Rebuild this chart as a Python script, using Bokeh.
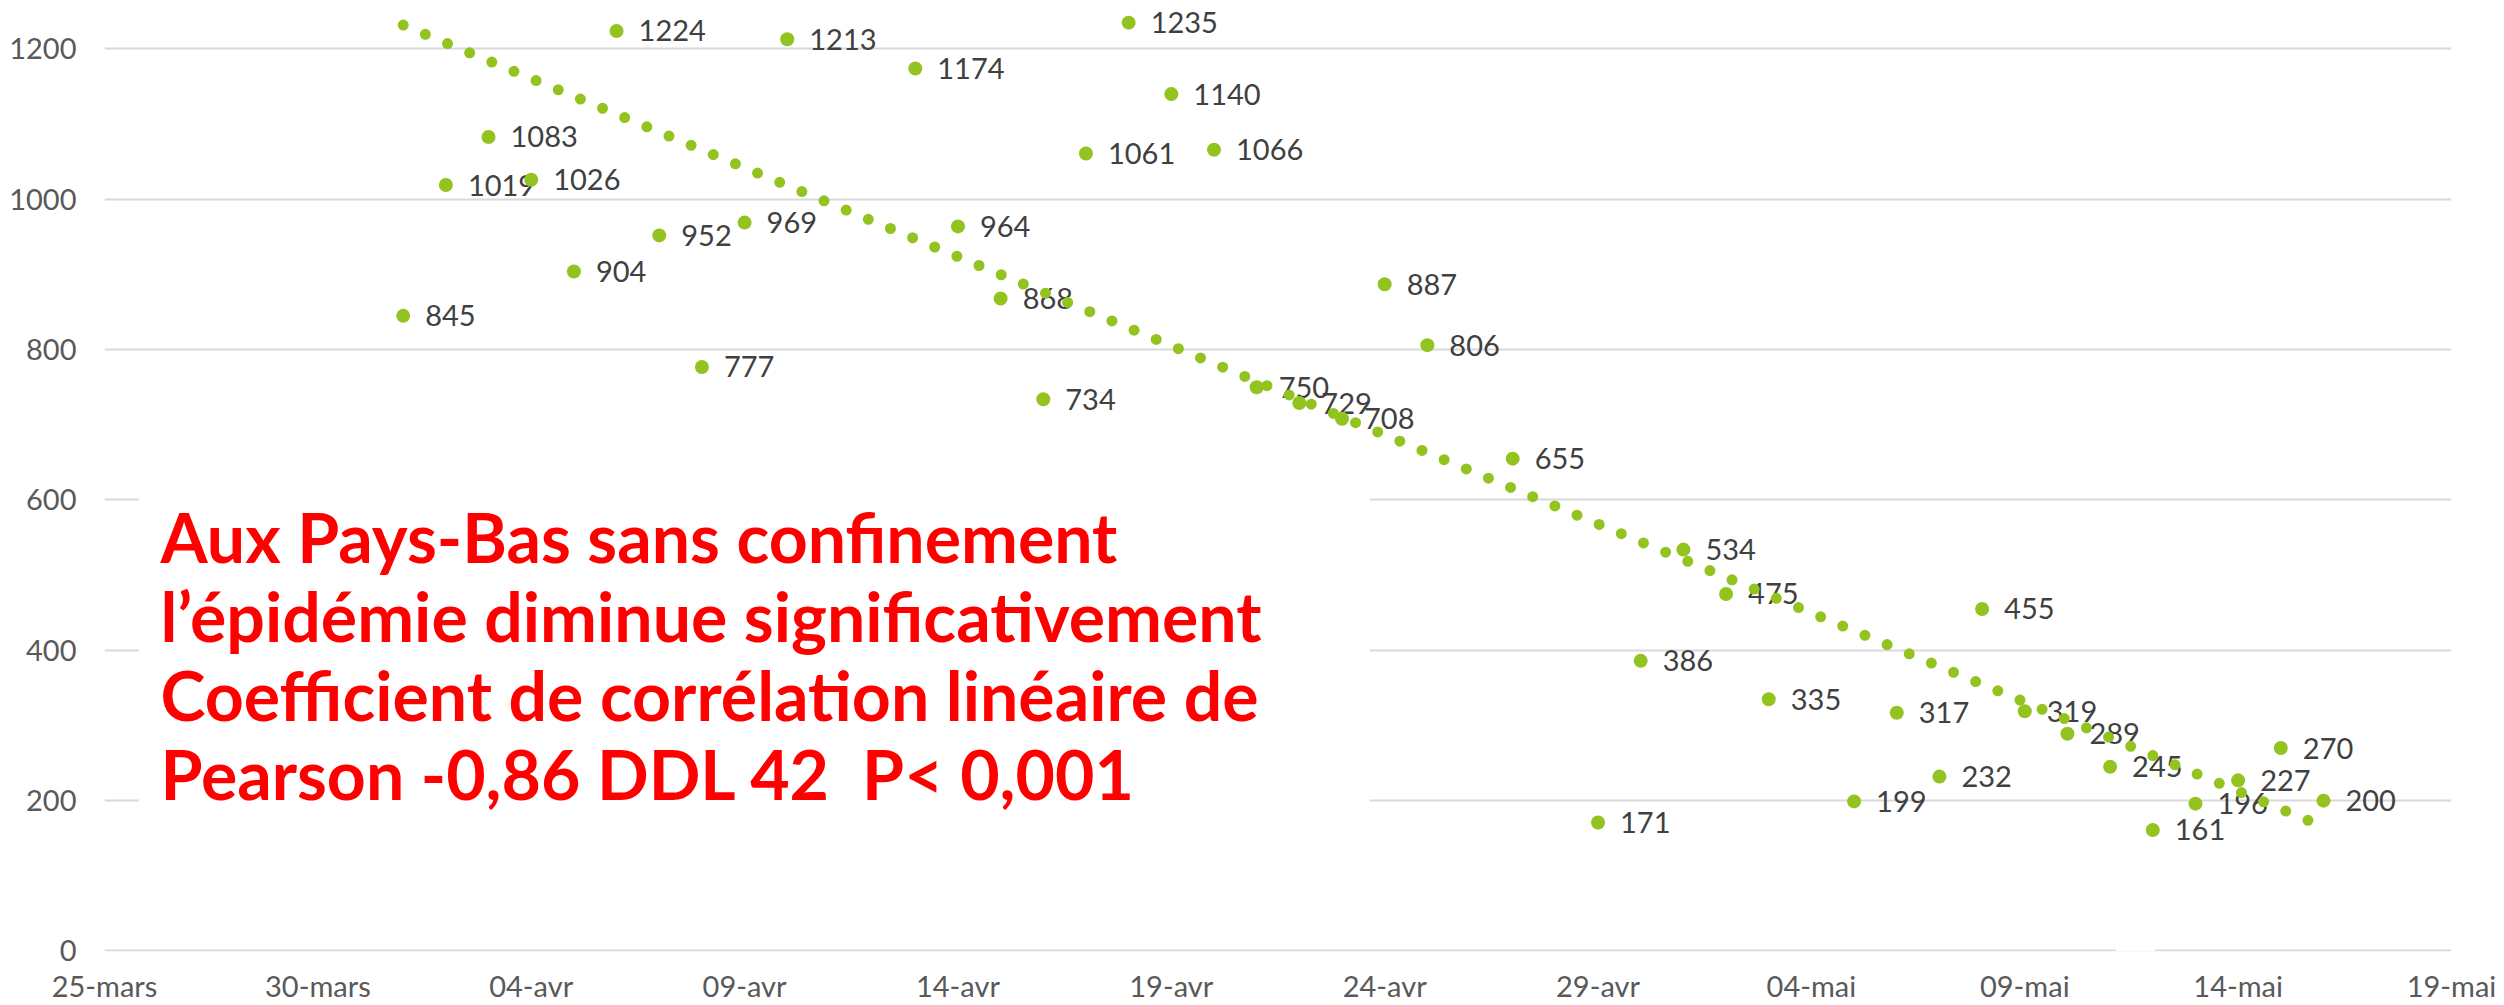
import numpy as np
import pandas as pd
from bokeh.plotting import figure
from bokeh.models import ColumnDataSource, FixedTicker, BoxAnnotation, Label, Range1d
from bokeh.embed import file_html
from bokeh.resources import INLINE
from bokeh.core.properties import value

# ---- data (11 and 12 April lie above the visible area) ----
dates = ["2020-04-01", "2020-04-02", "2020-04-03", "2020-04-04", "2020-04-05",
         "2020-04-06", "2020-04-07", "2020-04-08", "2020-04-09", "2020-04-10",
         "2020-04-11", "2020-04-12", "2020-04-13", "2020-04-14", "2020-04-15",
         "2020-04-16", "2020-04-17", "2020-04-18", "2020-04-19", "2020-04-20",
         "2020-04-21", "2020-04-22", "2020-04-23", "2020-04-24", "2020-04-25",
         "2020-04-27", "2020-04-29", "2020-04-30", "2020-05-01", "2020-05-02",
         "2020-05-03", "2020-05-05", "2020-05-06", "2020-05-07", "2020-05-08",
         "2020-05-09", "2020-05-10", "2020-05-11", "2020-05-12", "2020-05-13",
         "2020-05-14", "2020-05-15", "2020-05-16"]
cases = [845, 1019, 1083, 1026, 904,
         1224, 952, 777, 969, 1213,
         1316, 1335, 1174, 964, 868,
         734, 1061, 1235, 1140, 1066,
         750, 729, 708, 887, 806,
         655, 171, 386, 534, 475,
         335, 199, 317, 232, 455,
         319, 289, 245, 161, 196,
         227, 270, 200]

tick_dates = ["2020-03-25", "2020-03-30", "2020-04-04", "2020-04-09", "2020-04-14",
              "2020-04-19", "2020-04-24", "2020-04-29", "2020-05-04", "2020-05-09",
              "2020-05-14", "2020-05-19"]
tick_labels = ["25-mars", "30-mars", "04-avr", "09-avr", "14-avr", "19-avr",
               "24-avr", "29-avr", "04-mai", "09-mai", "14-mai", "19-mai"]
y_ticks = [0, 200, 400, 600, 800, 1000, 1200]

annotation_lines = [
    "Aux Pays-Bas sans confinement",
    "l\u2019\u00e9pid\u00e9mie diminue significativement",
    "Coefficient de corr\u00e9lation lin\u00e9aire de",
    "Pearson -0,86 DDL 42\u00a0 P< 0,001",
]

# ---- conversions ----
DAY = 86400000.0
Y_START, Y_END = -0.67, 1264.5
x_ms = (pd.to_datetime(dates).astype("int64") // 10**6).astype(float).tolist()
tick_ms = (pd.to_datetime(tick_dates).astype("int64") // 10**6).astype(float).tolist()
x0, x1 = tick_ms[0], tick_ms[-1]

# marks only for the values inside the visible value range (the others are cropped)
vis = [i for i, v in enumerate(cases) if v <= Y_END]
src = ColumnDataSource(dict(x=[x_ms[i] for i in vis], y=[cases[i] for i in vis],
                            label=[str(cases[i]) for i in vis]))

# linear trendline (least squares over all values, as the spreadsheet does)
x_days = (np.array(x_ms) - x0) / DAY
slope, intercept = np.polyfit(x_days, np.array(cases, dtype=float), 1)
tx = [min(x_ms), max(x_ms)]
ty = [intercept + slope * (t - x0) / DAY for t in tx]

GREEN = "#92C31F"

p = figure(width=2504, height=1005, output_backend="svg", toolbar_location=None,
           x_range=Range1d(x0, x1), y_range=Range1d(Y_START, Y_END),
           min_border_left=104, min_border_right=53, min_border_top=0, min_border_bottom=54)
p.outline_line_color = None
p.background_fill_color = "white"
p.border_fill_color = "white"

p.xgrid.visible = False
p.ygrid.ticker = FixedTicker(ticks=y_ticks)
p.ygrid.grid_line_color = "#D9D9D9"
p.ygrid.grid_line_width = 2

p.yaxis.ticker = FixedTicker(ticks=y_ticks)
p.xaxis.ticker = FixedTicker(ticks=tick_ms)
p.xaxis.major_label_overrides = {float(t): lab for t, lab in zip(tick_ms, tick_labels)}
for ax in (p.xaxis, p.yaxis):
    ax.axis_line_color = None
    ax.major_tick_line_color = None
    ax.minor_tick_line_color = None
    ax.major_tick_out = 0
    ax.major_tick_in = 0
    ax.major_label_text_font = "Lato"
    ax.major_label_text_font_size = "29px"
    ax.major_label_text_color = "#595959"
p.yaxis.major_label_standoff = 28
p.xaxis.major_label_standoff = 16

# data labels
p.text(x="x", y="y", text="label", source=src, x_offset=22,
       text_align="left", text_baseline="middle",
       text_font=value("Lato"), text_font_size="29px", text_color="#404040")

# markers
p.scatter(x="x", y="y", source=src, size=14, fill_color=GREEN, line_color=None)

# dotted trendline
p.line(x=tx, y=ty, line_color=GREEN, line_width=11, line_dash="0 24", line_cap="round")

# white text box hiding the gridlines behind the annotation
p.add_layout(BoxAnnotation(left=x0 + 0.80 * DAY, right=x0 + 29.65 * DAY, top=625, bottom=146,
                           fill_color="white", fill_alpha=1.0, line_color=None))
# small white shape interrupting the baseline
p.add_layout(BoxAnnotation(left=x0 + 47.13 * DAY, right=x0 + 48.05 * DAY, top=12, bottom=Y_START,
                           fill_color="white", fill_alpha=1.0, line_color=None))

baselines = [551.5, 446.5, 341.5, 236.0]
for line_text, yb in zip(annotation_lines, baselines):
    p.add_layout(Label(x=x0 + 1.31 * DAY, y=yb, text=line_text,
                       text_font="Lato", text_font_style="bold", text_font_size="68px",
                       text_color="#FF0000", text_baseline="alphabetic", text_align="left"))

open("out.html", "w").write(file_html(p, INLINE))
